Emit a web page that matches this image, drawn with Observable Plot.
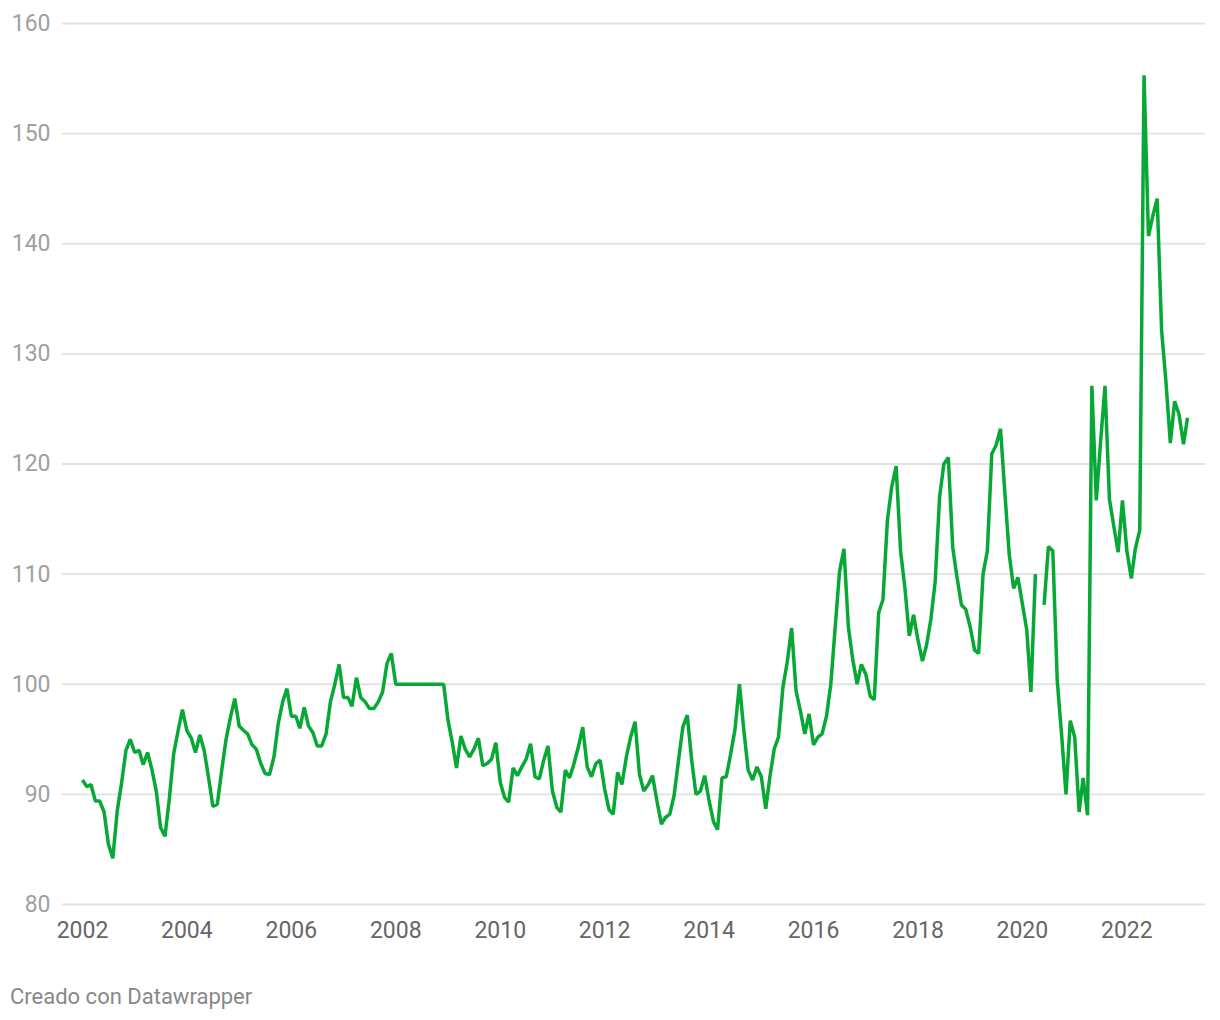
<!DOCTYPE html>
<html>
<head>
<meta charset="utf-8">
<script src="https://cdn.jsdelivr.net/npm/d3@7"></script>
<script src="https://cdn.jsdelivr.net/npm/@observablehq/plot@0.6"></script>
<style>
  html, body { margin: 0; padding: 0; background: #fff; }
  body { width: 1220px; height: 1020px; font-family: Roboto, "Noto Sans", sans-serif; }
  #chart svg { display: block; }
  .caption { font-family: Roboto, sans-serif; font-size: 22px; line-height: 26px; color: #888; margin: 34px 0 0 10px; }
</style>
</head>
<body>
<div id="chart"></div>
<div class="caption">Creado con Datawrapper</div>
<script>
// Monthly series, January 2002 onward (null = missing month)
const startYear = 2002;
const values = [
  91.3, 90.7, 90.9, 89.4, 89.4, 88.4, 85.5, 84.2, 88.5, 91.0, 94.0, 95.0,      // 2002
  93.8, 94.0, 92.7, 93.8, 92.3, 90.3, 87.0, 86.2, 89.7, 93.7, 95.8, 97.7,      // 2003
  95.8, 95.1, 93.8, 95.4, 94.0, 91.5, 88.9, 89.1, 92.2, 95.0, 97.0, 98.7,      // 2004
  96.2, 95.8, 95.5, 94.5, 94.1, 92.8, 91.9, 91.8, 93.4, 96.4, 98.4, 99.6,      // 2005
  97.1, 97.1, 96.0, 97.9, 96.2, 95.6, 94.4, 94.4, 95.5, 98.4, 100.0, 101.8,    // 2006
  98.8, 98.8, 98.0, 100.6, 98.8, 98.4, 97.8, 97.8, 98.4, 99.3, 101.9, 102.8,   // 2007
  100, 100, 100, 100, 100, 100, 100, 100, 100, 100, 100, 100,                  // 2008
  96.7, 94.6, 92.4, 95.3, 94.1, 93.4, 94.1, 95.1, 92.6, 92.8, 93.2, 94.7,      // 2009
  91.1, 89.7, 89.3, 92.4, 91.7, 92.5, 93.2, 94.6, 91.6, 91.4, 93.1, 94.4,      // 2010
  90.3, 88.8, 88.4, 92.2, 91.5, 92.8, 94.3, 96.1, 92.5, 91.6, 92.8, 93.1,      // 2011
  90.5, 88.6, 88.2, 92.0, 90.9, 93.4, 95.2, 96.6, 91.8, 90.3, 90.9, 91.7,      // 2012
  89.4, 87.3, 87.9, 88.2, 89.9, 93.1, 96.1, 97.2, 93.1, 90.0, 90.3, 91.7,      // 2013
  89.4, 87.5, 86.8, 91.5, 91.6, 93.7, 95.9, 100.0, 95.8, 92.2, 91.3, 92.5,     // 2014
  91.6, 88.7, 91.5, 94.1, 95.2, 99.7, 102.0, 105.1, 99.4, 97.6, 95.5, 97.3,    // 2015
  94.5, 95.2, 95.5, 97.1, 100.0, 105.2, 110.2, 112.3, 105.2, 102.3, 100.0, 101.8, // 2016
  100.9, 98.9, 98.6, 106.5, 107.7, 114.9, 117.9, 119.8, 112.1, 108.8, 104.4, 106.3, // 2017
  104.0, 102.1, 103.5, 105.9, 109.3, 117.0, 120.0, 120.6, 112.4, 109.7, 107.2, 106.8, // 2018
  105.2, 103.1, 102.8, 110.0, 112.1, 120.9, 121.7, 123.2, 117.3, 111.8, 108.7, 109.7, // 2019
  107.3, 104.9, 99.3, 110.0, null, 107.2, 112.5, 112.1, 100.3, 95.5, 90.0, 96.7,  // 2020
  95.2, 88.4, 91.5, 88.1, 127.1, 116.7, 122.0, 127.1, 116.8, 114.4, 112.0, 116.7, // 2021
  112.1, 109.6, 112.3, 114.0, 155.3, 140.7, 142.5, 144.1, 132.1, 127.5, 121.9, 125.7, // 2022
  124.5, 121.8, 124.2                                                          // 2023
];
const yTicks = [80, 90, 100, 110, 120, 130, 140, 150, 160];
const xTickYears = [2002, 2004, 2006, 2008, 2010, 2012, 2014, 2016, 2018, 2020, 2022];

const data = values.map((v, i) => ({
  date: new Date(startYear + Math.floor(i / 12), i % 12, 1),
  value: v
}));
const xTicks = xTickYears.map(y => new Date(y, 0, 1));

const chart = Plot.plot({
  width: 1220,
  height: 950,
  marginLeft: 62,
  marginRight: 15,
  marginTop: 23,
  marginBottom: 46,
  style: { fontFamily: "Roboto, sans-serif", background: "#fff" },
  x: {
    type: "time",
    domain: [data[0].date, data[data.length - 1].date],
    insetLeft: 20,
    insetRight: 18
  },
  y: { domain: [80, 160] },
  marks: [
    Plot.ruleY(yTicks, { stroke: "#e2e2e2", strokeWidth: 1.8 }),
    Plot.axisY(yTicks, {
      tickSize: 0, tickPadding: 12, fontSize: 23, fill: "#a0a0a0", label: null
    }),
    Plot.axisX(xTicks, {
      tickSize: 0, tickPadding: 17, fontSize: 23, fill: "#666", label: null,
      tickFormat: d3.timeFormat("%Y")
    }),
    Plot.line(data, {
      x: "date", y: "value", stroke: "#07a836", strokeWidth: 3.5,
      strokeLinejoin: "miter", strokeLinecap: "butt", curve: "linear"
    })
  ]
});
document.getElementById("chart").appendChild(chart);
</script>
</body>
</html>
